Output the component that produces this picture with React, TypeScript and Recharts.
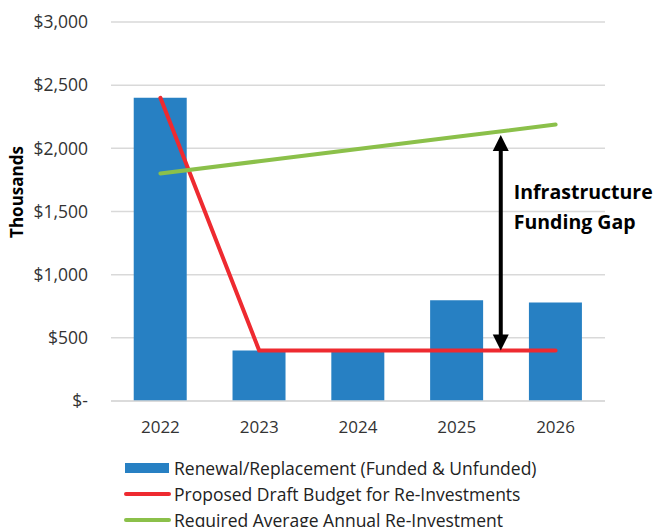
import {
  ComposedChart,
  Bar,
  Line,
  XAxis,
  YAxis,
  CartesianGrid,
  Legend,
  ReferenceLine,
} from "recharts";

const years = ["2022", "2023", "2024", "2025", "2026"];
const renewal = [2400, 400, 400, 798, 780];
const proposed = [2400, 400, 400, 400, 400];
const required = [1800, 1898, 1995, 2092, 2188];
const yTicks = [0, 500, 1000, 1500, 2000, 2500, 3000];

const seriesNames = [
  "Renewal/Replacement (Funded & Unfunded)",
  "Proposed Draft Budget for Re-Investments",
  "Required Average Annual Re-Investment",
];

// funding gap arrow: x in category-index units (2025 = 3), y in $ thousands
const gapX = 3.445;
const gapTop = 2105;
const gapBottom = 400;
const gapLabel = ["Infrastructure", "Funding Gap"];

const BLUE = "#2780c3";
const RED = "#ee2a30";
const GREEN = "#8bc04a";
const FONT = "'Open Sans', sans-serif";

const data = years.map((year, i) => ({
  year,
  idx: i,
  renewal: renewal[i],
  proposed: proposed[i],
  required: required[i],
}));

const fmtDollar = (v: number) =>
  v === 0 ? "$-" : "$" + v.toLocaleString("en-US");

function GapArrow(props: any) {
  const { x1, y1, y2 } = props;
  if (x1 == null || y1 == null || y2 == null) return null;
  const top = Math.min(y1, y2);
  const bottom = Math.max(y1, y2);
  const head = 16;
  const half = 8;
  return (
    <g>
      <line
        x1={x1}
        x2={x1}
        y1={top + head - 2}
        y2={bottom - head + 2}
        stroke="#000"
        strokeWidth={4}
      />
      <polygon
        points={`${x1},${top} ${x1 - half},${top + head} ${x1 + half},${top + head}`}
        fill="#000"
      />
      <polygon
        points={`${x1},${bottom} ${x1 - half},${bottom - head} ${x1 + half},${bottom - head}`}
        fill="#000"
      />
      {gapLabel.map((t, i) => (
        <text
          key={t}
          x={x1 + 13}
          y={top + 64 + i * 30}
          fontFamily={FONT}
          fontWeight={700}
          fontSize={19.5}
          fill="#000"
        >
          {t}
        </text>
      ))}
    </g>
  );
}

function LegendBox(props: any) {
  const items = [...(props.payload ?? [])].sort(
    (a: any, b: any) => seriesNames.indexOf(a.value) - seriesNames.indexOf(b.value)
  );
  return (
    <div style={{ fontFamily: FONT, fontSize: 17.5, color: "#222" }}>
      {items.map((it: any) => (
        <div
          key={it.value}
          style={{ display: "flex", alignItems: "center", height: 26 }}
        >
          <svg width={48} height={12} style={{ marginRight: 2 }}>
            {it.type === "rect" ? (
              <rect x={1} y={1} width={44} height={10} fill={it.color} />
            ) : (
              <line
                x1={2}
                x2={45}
                y1={6}
                y2={6}
                stroke={it.color}
                strokeWidth={4}
                strokeLinecap="round"
              />
            )}
          </svg>
          <span style={{ whiteSpace: "nowrap" }}>{it.value}</span>
        </div>
      ))}
    </div>
  );
}

export default function App() {
  return (
    <div style={{ position: "absolute", left: 0, top: 0, background: "#fff" }}>
      <ComposedChart
        width={653}
        height={527}
        data={data}
        margin={{ top: 22, right: 48, bottom: 96, left: 0 }}
        barCategoryGap="23%"
      >
        <CartesianGrid vertical={false} stroke="#d9d9d9" strokeWidth={1.5} />
        <XAxis
          dataKey="year"
          height={30}
          axisLine={{ stroke: "#d9d9d9", strokeWidth: 1.5 }}
          tickLine={false}
          tickMargin={14}
          tick={{ fill: "#333", fontSize: 17, fontFamily: FONT }}
        />
        <XAxis
          xAxisId="gap"
          dataKey="idx"
          type="number"
          domain={[-0.5, 4.5]}
          allowDataOverflow
          hide
        />
        <YAxis
          width={111}
          domain={[0, 3000]}
          ticks={yTicks}
          tickFormatter={fmtDollar}
          axisLine={false}
          tickLine={false}
          tickSize={0}
          tickMargin={23}
          tick={{ fill: "#333", fontSize: 17.5, fontFamily: FONT }}
          label={() => (
            <text
              transform="rotate(-90 16 192)"
              x={16}
              y={192}
              textAnchor="middle"
              dominantBaseline="central"
              fontFamily={FONT}
              fontWeight={700}
              fontSize={17}
              fill="#000"
            >
              Thousands
            </text>
          )}
        />
        <Bar
          dataKey="renewal"
          name={seriesNames[0]}
          fill={BLUE}
          legendType="rect"
          isAnimationActive={false}
        />
        <Line
          dataKey="proposed"
          name={seriesNames[1]}
          stroke={RED}
          strokeWidth={4}
          strokeLinecap="round"
          dot={false}
          activeDot={false}
          legendType="line"
          isAnimationActive={false}
        />
        <Line
          dataKey="required"
          name={seriesNames[2]}
          stroke={GREEN}
          strokeWidth={4}
          strokeLinecap="round"
          dot={false}
          activeDot={false}
          legendType="line"
          isAnimationActive={false}
        />
        <ReferenceLine
          xAxisId="gap"
          segment={[
            { x: gapX, y: gapTop },
            { x: gapX, y: gapBottom },
          ]}
          shape={GapArrow}
        />
        <Legend
          layout="vertical"
          align="center"
          verticalAlign="middle"
          content={LegendBox}
          wrapperStyle={{ left: 124, top: 455, width: "auto", height: "auto" }}
        />
      </ComposedChart>
    </div>
  );
}
